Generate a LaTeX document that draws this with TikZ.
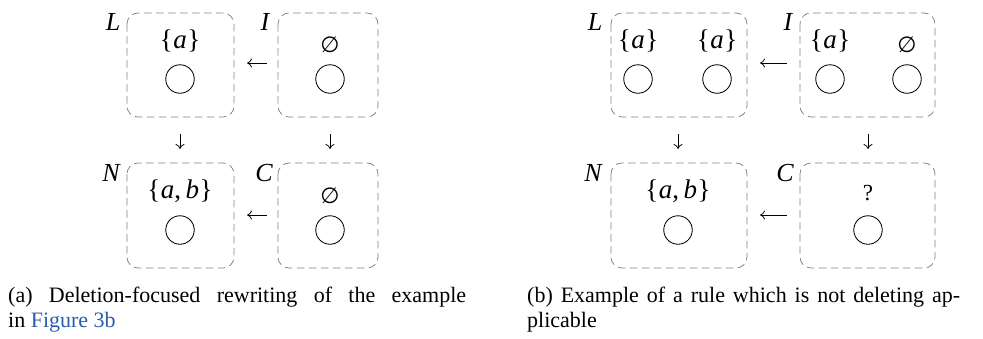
\documentclass[tikz,border=0pt]{standalone}
\usepackage{fontspec}
\setmainfont{Liberation Serif}
\newfontfamily\dvfont{DejaVu Sans}
\usetikzlibrary{arrows.meta}
\definecolor{linkblue}{RGB}{40,92,176}
\newcommand{\emptyglyph}{{\dvfont\fontsize{22}{22}\selectfont ∅}}
\newcommand{\setof}[1]{\{\kern0.5pt#1\kern0.5pt\}}
\begin{document}
\begin{tikzpicture}[x=1pt,y=-1pt,
  gbox/.style={draw=black!50, dashed, dash pattern=on 7.5pt off 4.5pt, line width=0.75pt, rounded corners=11pt},
  vert/.style={circle, draw, line width=0.85pt, minimum size=28.5pt, inner sep=0pt},
  lbl/.style={font=\fontsize{26}{26}\selectfont\itshape, inner sep=0pt},
  settxt/.style={font=\fontsize{27}{27}\selectfont, inner sep=0pt},
  arr/.style={-{To[length=5pt,width=9pt]}, line width=0.75pt},
  captxt/.style={font=\fontsize{22}{25}\selectfont, anchor=north west, inner sep=0pt, text width=458pt, align=justify}]
\useasboundingbox (0,0) rectangle (983,338);
% ---------- (a) ----------
\draw[gbox] (127,13) rectangle (234,117);
\draw[gbox] (278,13) rectangle (378,117);
\draw[gbox] (127,163) rectangle (234,268);
\draw[gbox] (278,163) rectangle (378,268);
\node[lbl] (aLl) at (113,22) {L};
\node[lbl] (aIl) at (265,22) {I};
\node[lbl] (aNl) at (111,173) {N};
\node[lbl] (aCl) at (264,173) {C};
\node[settxt] (aLs) at (180,41) {\setof{\textit{a}}};
\node[vert] (aLv) at (180,79) {};
\node (aIs) at (330,45) {\emptyglyph};
\node[vert] (aIv) at (330,79) {};
\node[settxt] (aNs) at (180,191) {\setof{\textit{a},\,\textit{b}}};
\node[vert] (aNv) at (180,230) {};
\node (aCs) at (330,196) {\emptyglyph};
\node[vert] (aCv) at (330,230) {};
\coordinate (aLr) at (234,63); \coordinate (aIl2) at (278,63);
\coordinate (aNr) at (234,215); \coordinate (aCl2) at (278,215);
\draw[arr, shorten <=11pt, shorten >=13pt] (aIl2) -- (aLr);
\draw[arr, shorten <=11pt, shorten >=13pt] (aCl2) -- (aNr);
\coordinate (aLb) at (180,117); \coordinate (aNt) at (180,163);
\coordinate (aIb) at (330,117); \coordinate (aCt) at (330,163);
\draw[arr, shorten <=17pt, shorten >=14pt] (aLb) -- (aNt);
\draw[arr, shorten <=17pt, shorten >=14pt] (aIb) -- (aCt);
% ---------- (b) ----------
\draw[gbox] (611,13) rectangle (747,117);
\draw[gbox] (800,13) rectangle (935,117);
\draw[gbox] (611,163) rectangle (747,268);
\draw[gbox] (800,163) rectangle (935,268);
\node[lbl] (bLl) at (595,22) {L};
\node[lbl] (bIl) at (788,22) {I};
\node[lbl] (bNl) at (593,173) {N};
\node[lbl] (bCl) at (785,173) {C};
\node[settxt] (bLs1) at (638,41) {\setof{\textit{a}}};
\node[vert] (bLv1) at (638,79) {};
\node[settxt] (bLs2) at (717,41) {\setof{\textit{a}}};
\node[vert] (bLv2) at (717,79) {};
\node[settxt] (bIs1) at (830,41) {\setof{\textit{a}}};
\node[vert] (bIv1) at (830,79) {};
\node (bIs2) at (907,45) {\emptyglyph};
\node[vert] (bIv2) at (907,79) {};
\node[settxt] (bNs) at (678,191) {\setof{\textit{a},\,\textit{b}}};
\node[vert] (bNv) at (678,230) {};
\node[font=\fontsize{23}{23}\selectfont, inner sep=0pt] (bCs) at (868,193) {?};
\node[vert] (bCv) at (868,230) {};
\coordinate (bLr) at (747,63); \coordinate (bIl2) at (800,63);
\coordinate (bNr) at (747,215); \coordinate (bCl2) at (800,215);
\draw[arr, shorten <=13pt, shorten >=13pt] (bIl2) -- (bLr);
\draw[arr, shorten <=13pt, shorten >=13pt] (bCl2) -- (bNr);
\coordinate (bLb) at (678,117); \coordinate (bNt) at (678,163);
\coordinate (bIb) at (868,117); \coordinate (bCt) at (868,163);
\draw[arr, shorten <=17pt, shorten >=14pt] (bLb) -- (bNt);
\draw[arr, shorten <=17pt, shorten >=14pt] (bIb) -- (bCt);
% ---------- captions ----------
\node[captxt] (capa) at (8,287) {(a) Deletion-focused rewriting of the example\linebreak in \textcolor{linkblue}{Figure 3b}};
\node[captxt, text width=433pt] (capb) at (527,287) {(b) Example of a rule which is not deleting ap-\linebreak plicable};
\end{tikzpicture}
\end{document}
